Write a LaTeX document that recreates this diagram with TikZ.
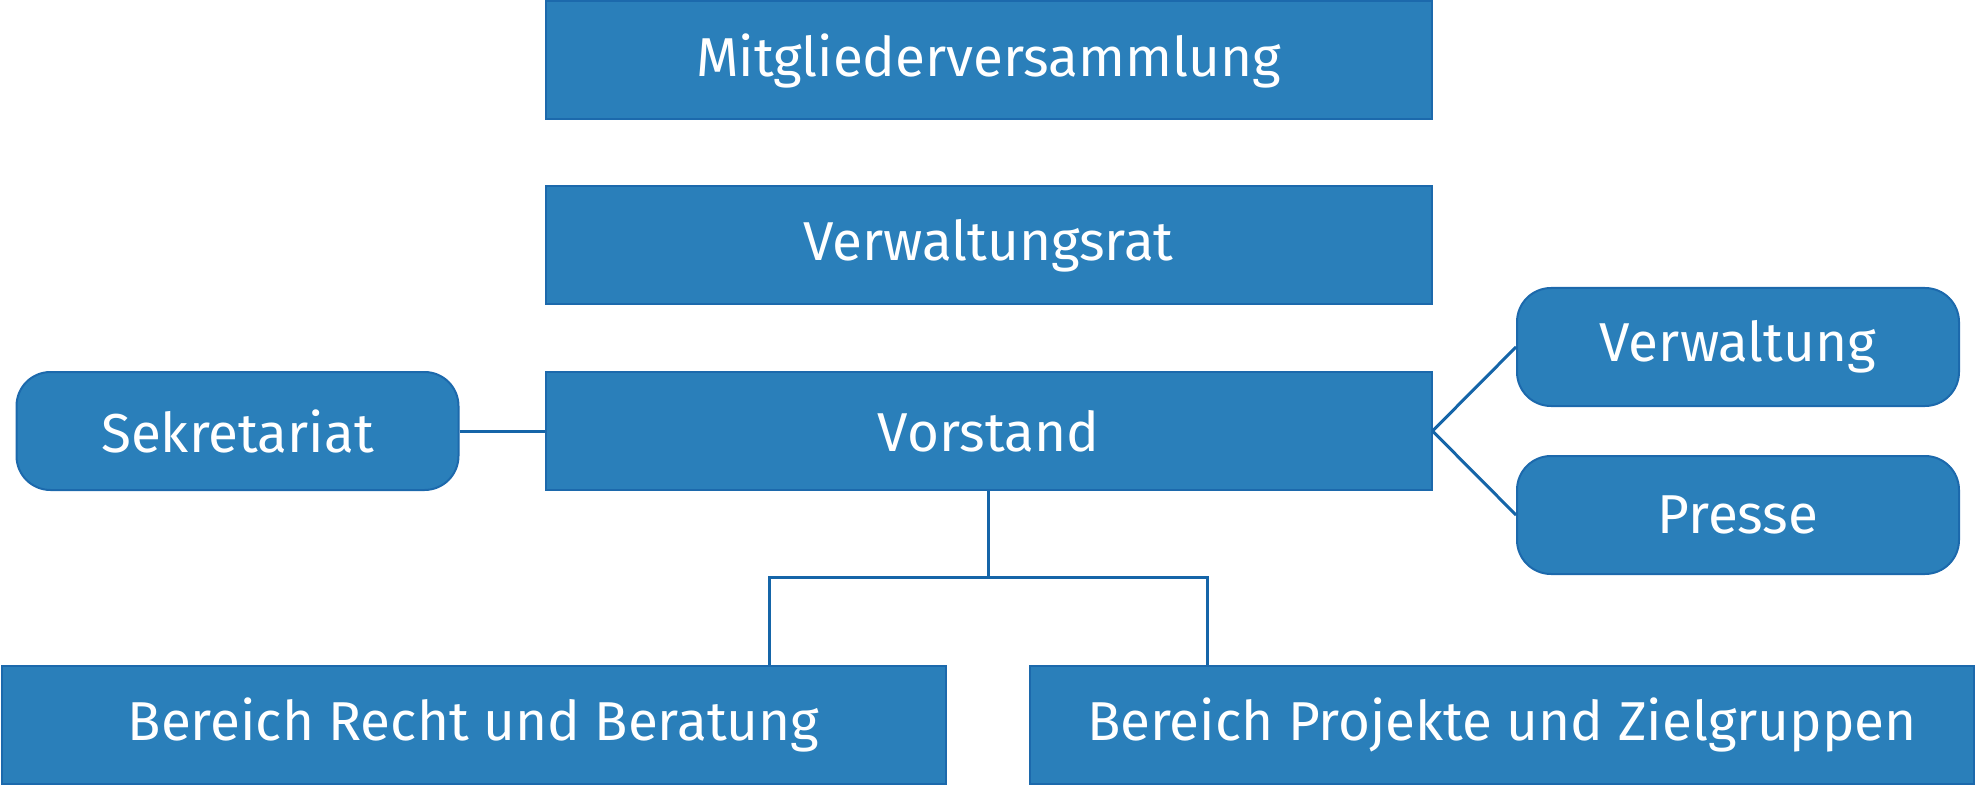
\documentclass[tikz,border=0pt]{standalone}
\usepackage{fontspec}
\setmainfont{Fira Sans}
\usetikzlibrary{positioning,calc}
\definecolor{boxfill}{HTML}{2A7FBA}
\definecolor{boxline}{HTML}{1C69AC}
\definecolor{linkline}{HTML}{1565A8}
\tikzset{
  orgbox/.style={draw=boxline, fill=boxfill, line width=1pt, text=white,
                 align=center, inner sep=0pt, font=\fontsize{27.4}{32}\selectfont},
  sidebox/.style={orgbox, rounded corners=17pt},
  link/.style={draw=linkline, line width=1.5pt}
}

\begin{document}
\begin{tikzpicture}[x=0.5pt,y=-0.5pt]
    \useasboundingbox (0,0) rectangle (1976,786);
    % ===== main column =====
    \node[orgbox, minimum width=443pt, minimum height=59pt] (mv) at (988.5,60.5) {Mitgliederversammlung};
    \node[orgbox, minimum width=443pt, minimum height=59pt] (vr) at (988.5,245.5) {Verwaltungsrat};
    \node[orgbox, minimum width=443pt, minimum height=59pt] (vorstand) at (988.5,431) {Vorstand};

    % ===== side boxes =====
    \node[sidebox, minimum width=221pt, minimum height=59pt] (sekr) at (237.5,431) {Sekretariat};
    \node[sidebox, minimum width=221pt, minimum height=59pt] (verw) at (1738,347) {Verwaltung};
    \node[sidebox, minimum width=221pt, minimum height=59pt] (presse) at (1738,515) {Presse};

    % ===== departments =====
    \node[orgbox, minimum width=472pt, minimum height=59pt] (recht) at (473.5,724.5) {Bereich Recht und Beratung};
    \node[orgbox, minimum width=472pt, minimum height=59pt] (projekte) at (1502,724.5) {Bereich Projekte und Zielgruppen};

    % ===== links =====
    \coordinate (jl) at (769,577);
    \coordinate (jr) at (1207,577);
    \draw[link] (sekr.east) -- (vorstand.west);
    \draw[link] (vorstand.east) -- (verw.west);
    \draw[link] (vorstand.east) -- (presse.west);
    \draw[link] (vorstand.south) -- (vorstand.south |- jl);
    \draw[link] (recht.north -| jl) -- (jl) -- (jr) -- (projekte.north -| jr);
\end{tikzpicture}
\end{document}
